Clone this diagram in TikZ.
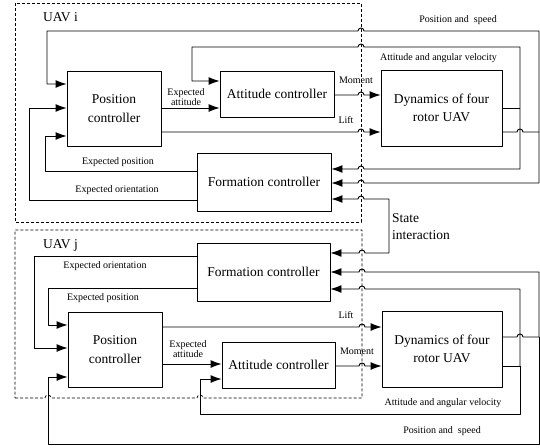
\documentclass[tikz,border=0pt]{standalone}
\usepackage{fontspec}
\setmainfont{Liberation Serif}
\usetikzlibrary{arrows.meta}
\tikzset{
	blk/.style={draw, line width=0.9pt, align=center, inner sep=0pt,
		font=\fontsize{13.5}{18.5}\selectfont},
	lbl/.style={inner sep=0pt, font=\fontsize{10}{10.5}\selectfont, align=center},
	tag/.style={inner sep=0pt, font=\fontsize{13.5}{17}\selectfont, align=left},
	wire/.style={line width=0.9pt},
	arr/.style={wire, -{Latex[length=11pt,width=8pt]}},
	frame/.style={dash pattern=on 3pt off 2pt, line width=0.7pt},
	jr/.style={},
}
\begin{document}
\begin{tikzpicture}[x=1pt, y=-1pt, line join=round]
	\useasboundingbox (0,0) rectangle (540,447);
	\node[blk, minimum width=94pt, minimum height=75pt] (posi) at (114,108.5) {Position\\controller};
	\node[blk, minimum width=114pt, minimum height=46pt] (atti) at (277,94) {Attitude controller};
	\node[blk, minimum width=121pt, minimum height=76pt] (dyni) at (441.5,108) {Dynamics of four\\rotor UAV};
	\node[blk, minimum width=134pt, minimum height=58pt] (formi) at (264,182) {Formation controller};
	\node[blk, minimum width=133pt, minimum height=58pt] (formj) at (263.5,272) {Formation controller};
	\node[blk, minimum width=94pt, minimum height=75pt] (posj) at (115,349.5) {Position\\controller};
	\node[blk, minimum width=113pt, minimum height=46pt] (attj) at (278.5,365) {Attitude controller};
	\node[blk, minimum width=120pt, minimum height=76pt] (dynj) at (442,349) {Dynamics of four\\rotor UAV};
	\path
	(539,132) coordinate (psi)
	(520,108) coordinate (avi)
	(539,337) coordinate (psj)
	(520,366) coordinate (avj)
	(389,226) coordinate (si)
	;
	\draw[frame] (15,3) rectangle (361,222);
	\draw[frame] (15,398) -- (45,398) arc[start angle=180, end angle=360, radius=3]
	-- (197,398) arc[start angle=180, end angle=360, radius=3]
	-- (362,398) -- (362,230) -- (15,230) -- cycle;
	\draw[arr] (posi.east |- 0,108) -- (atti.west |- 0,108);
	\draw[arr] (atti.east |- 0,95) -- (358,95) arc[start angle=180, end angle=360, radius=3] -- (dyni.west |- 0,95);
	\draw[arr] (posi.east |- 0,132) -- (358,132) arc[start angle=180, end angle=360, radius=3] -- (dyni.west |- 0,132);
	\draw[wire] (dyni.east |- avi) -- (avi);
	\draw[wire] (dyni.east |- psi) -- (517,132) arc[start angle=180, end angle=360, radius=3] -- (psi);
	\draw[arr] (psi) -- (539,31) -- (364,31) arc[start angle=0, end angle=-180, radius=3]
	-- (47,31) -- (47,84) -- (posi.west |- 0,84);
	\draw[arr] (psi) -- (539,183) -- (364,183) arc[start angle=0, end angle=-180, radius=3] -- (formi.east |- 0,183);
	\draw[arr] (avi) -- (520,47) -- (364,47) arc[start angle=0, end angle=-180, radius=3]
	-- (192,47) -- (192,81) -- (atti.west |- 0,81);
	\draw[arr] (avi) -- (520,169) -- (364,169) arc[start angle=0, end angle=-180, radius=3] -- (formi.east |- 0,169);
	\draw[arr] (formi.west |- 0,171) -- (45,171) -- (45,136) -- (posi.west |- 0,136);
	\draw[arr] (formi.west |- 0,200) -- (29,200) -- (29,108) -- (posi.west |- 0,108);
	\draw[arr] (si) -- (389,199) -- (364,199) arc[start angle=0, end angle=-180, radius=3] -- (formi.east |- 0,199);
	\draw[arr] (si) -- (389,253) -- (365,253) arc[start angle=0, end angle=-180, radius=3] -- (formj.east |- 0,253);
	\draw[arr] (formj.west |- 0,256) -- (34,256) -- (34,348) -- (posj.west |- 0,348);
	\draw[arr] (formj.west |- 0,288) -- (48,288) -- (48,325) -- (posj.west |- 0,325);
	\draw[arr] (posj.east |- 0,327) -- (359,327) arc[start angle=180, end angle=360, radius=3] -- (dynj.west |- 0,327);
	\draw[arr] (posj.east |- 0,364) -- (attj.west |- 0,364);
	\draw[arr] (attj.east |- 0,366) -- (359,366) arc[start angle=180, end angle=360, radius=3] -- (dynj.west |- 0,366);
	\draw[wire] (dynj.east |- avj) -- (avj);
	\draw[wire] (dynj.east |- psj) -- (517,337) arc[start angle=180, end angle=360, radius=3] -- (psj);
	\draw[arr] (psj) -- (539,272) -- (365,272) arc[start angle=0, end angle=-180, radius=3] -- (formj.east |- 0,272);
	\draw[arr] (psj) -- (539,444) -- (48,444) -- (48,377) -- (posj.west |- 0,377);
	\draw[arr] (avj) -- (520,289) -- (365,289) arc[start angle=0, end angle=-180, radius=3] -- (formj.east |- 0,289);
	\draw[arr] (avj) -- (520,414) -- (200,414) -- (200,379) -- (attj.west |- 0,379);
	\node[tag, anchor=west] (ui) at (43,17) {UAV i};
	\node[tag, anchor=west] (uj) at (43,245) {UAV j};
	\node[tag, anchor=west] (st) at (392,227) {State\\interaction};
	\node[lbl] (psli) at (458,20) {Position and\ \ speed};
	\node[lbl] (avli) at (438.5,58) {Attitude and angular velocity};
	\node[lbl] (mi) at (356,80) {Moment};
	\node[lbl] (li) at (346,120) {Lift};
	\node[lbl] (eai) at (186,97) {Expected\\attitude};
	\node[lbl] (epi) at (118,162) {Expected position};
	\node[lbl] (eoi) at (117,190) {Expected orientation};
	\node[lbl] (eoj) at (105,266) {Expected orientation};
	\node[lbl] (epj) at (103,298) {Expected position};
	\node[lbl] (eaj) at (188,349) {Expected\\attitude};
	\node[lbl] (lj) at (346,315) {Lift};
	\node[lbl] (mj) at (357,351) {Moment};
	\node[lbl] (avlj) at (443,403) {Attitude and angular velocity};
	\node[lbl] (pslj) at (442,431) {Position and\ \ speed};
\end{tikzpicture}
\end{document}
